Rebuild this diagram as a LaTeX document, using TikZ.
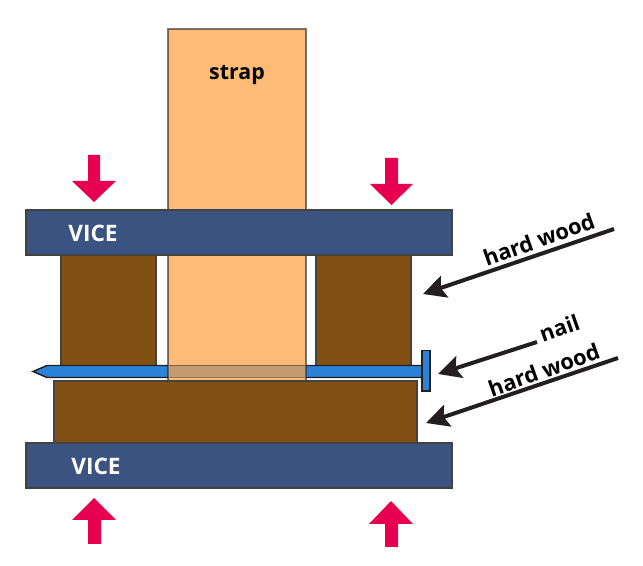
\documentclass[tikz,border=0pt]{standalone}
\usepackage{fontspec}
\setmainfont{Open Sans}
\usepackage{tikz}
\usetikzlibrary{arrows.meta}
\definecolor{vice}{HTML}{3A5380}
\definecolor{wood}{HTML}{835014}
\definecolor{nailblue}{HTML}{2B83D8}
\definecolor{strapfill}{HTML}{FDBB78}
\definecolor{strapnail}{HTML}{C29C70}
\definecolor{press}{HTML}{E6004F}
\definecolor{ink}{HTML}{231F20}
\tikzset{
vicebar/.style={fill=vice,draw=ink!85,line width=1pt},
woodblock/.style={fill=wood,draw=ink!85,line width=1pt},
nailpart/.style={fill=nailblue,draw=ink,line width=1.1pt},
strapband/.style={fill=strapfill,draw=ink,draw opacity=0.6,line width=1.1pt},
pressing/.style={fill=press},
pointer/.style={draw=ink,line width=3pt,-{Stealth[length=17pt,width=17pt,inset=3pt]}},
vicelabel/.style={white,font=\bfseries\fontsize{17}{17}\selectfont},
partlabel/.style={black,font=\bfseries\fontsize{16.4}{16.4}\selectfont,rotate=19.5},
}

\begin{document}
\begin{tikzpicture}[x=0.75pt,y=-0.75pt]
\useasboundingbox (0,0) rectangle (643,566);
% wood and nail first, the strap goes over them
\draw[woodblock] (61,255) rectangle (156,366);
\draw[woodblock] (316,255) rectangle (411,366);
\draw[nailpart] (33,371.5) -- (47,365.5) -- (422,365.5) -- (422,377.5) -- (47,377.5) -- cycle;
\draw[nailpart] (422,350.5) rectangle (430,391);
\draw[strapband] (168,29) rectangle (306,381);
% nail seen through the strap
\fill[strapnail] (168.7,365.5) rectangle (305.3,377.5);
\draw[ink,opacity=0.45,line width=1.1pt] (168.7,365.5) -- (305.3,365.5);
\draw[ink,opacity=0.45,line width=1.1pt] (168.7,377.5) -- (305.3,377.5);
\draw[woodblock] (54,381) rectangle (417,443);
% vice jaws
\draw[vicebar] (26,210) rectangle (452,255);
\draw[vicebar] (26,443) rectangle (452,488);
\node[vicelabel] (viceup) at (93,233.5) {VICE};
\node[vicelabel] (vicedown) at (96,466.5) {VICE};
\node[black,font=\bfseries\fontsize{16}{16}\selectfont] (straplabel) at (237,75) {strap};
% clamping force
\fill[pressing] (88,155) -- (100,155) -- (100,181) -- (116,181) -- (94,202) -- (72,181) -- (88,181) -- cycle;
\fill[pressing] (385,158) -- (398,158) -- (398,184) -- (413,184) -- (391.5,205) -- (370,184) -- (385,184) -- cycle;
\fill[pressing] (88,544) -- (101,544) -- (101,520) -- (116,520) -- (94,498) -- (72,520) -- (88,520) -- cycle;
\fill[pressing] (385,547) -- (398,547) -- (398,524) -- (413,524) -- (391,501) -- (369,524) -- (385,524) -- cycle;
% labels and what they point at
\node[partlabel] (woodtop) at (539,239.5) {hard wood};
\node[partlabel] (naillabel) at (559.5,328) {nail};
\node[partlabel] (woodlow) at (544,370) {hard wood};
\coordinate (woodtopstart) at (614,229);
\coordinate (woodtoptip) at (423,294);
\coordinate (nailstart) at (537,342);
\coordinate (nailtip) at (438,374);
\coordinate (woodlowstart) at (618,358);
\coordinate (woodlowtip) at (426,423);
\draw[pointer] (woodtopstart) -- (woodtoptip);
\draw[pointer] (nailstart) -- (nailtip);
\draw[pointer] (woodlowstart) -- (woodlowtip);
\end{tikzpicture}
\end{document}
